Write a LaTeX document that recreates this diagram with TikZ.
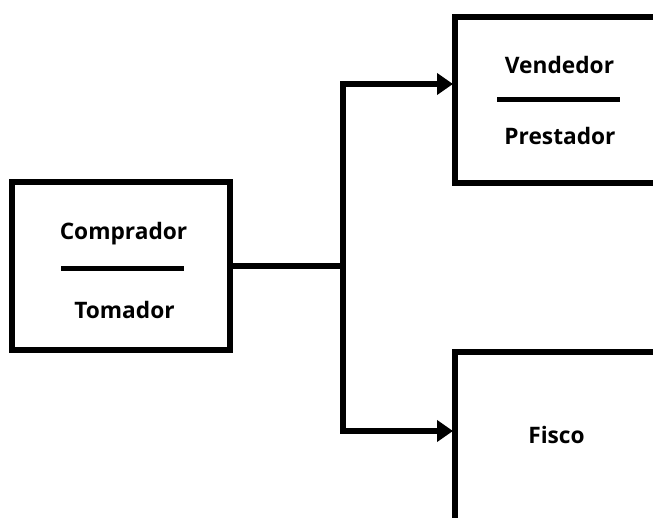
\documentclass[tikz,border=0pt]{standalone}
\usepackage{fontspec}
\setmainfont{Open Sans}
\usetikzlibrary{arrows.meta}
\begin{document}
\begin{tikzpicture}[x=1pt,y=-1pt,
  box/.style={draw=black,line width=6.5pt,fill=white,rectangle,inner sep=0pt},
  lbl/.style={font=\fontsize{22.7}{26}\selectfont\bfseries,inner sep=0pt,anchor=base},
  sep/.style={line width=4.5pt},
  conn/.style={line width=6.5pt,line join=miter},
  arr/.style={conn,-{Triangle[length=16pt,width=21pt]}}]
\useasboundingbox (0,0) rectangle (653,517);
\clip (0,0) rectangle (653,517);
\fill[white] (0,0) rectangle (653,517);
% boxes
\node[box,minimum width=218pt,minimum height=168pt] (lb) at (121,266) {};
\node[box,minimum width=260pt,minimum height=166pt] (vb) at (585,100) {};
\node[box,minimum width=260pt,minimum height=260pt] (fb) at (585,482) {};
% texts
\node[lbl] (comp) at (123.5,239) {Comprador};
\node[lbl] (tom) at (124.5,318) {Tomador};
\coordinate (cs1) at (61,268.5);
\coordinate (cs2) at (184,268.5);
\draw[sep] (cs1) -- (cs2);
\node[lbl] (vend) at (559.5,73) {Vendedor};
\node[lbl] (pres) at (560,144) {Prestador};
\coordinate (vs1) at (497,99.5);
\coordinate (vs2) at (620,99.5);
\draw[sep] (vs1) -- (vs2);
\node[lbl] (fis) at (556.5,443) {Fisco};
% connectors
\coordinate (j) at (343,266);
\coordinate (jt) at (343,84);
\coordinate (jb) at (343,431);
\coordinate (tt) at (453,84);
\coordinate (tb) at (453,431);
\draw[conn] (lb.east) -- (j);
\draw[arr] (j) -- (jt) -- (tt);
\draw[arr] (j) -- (jb) -- (tb);
\end{tikzpicture}
\end{document}
